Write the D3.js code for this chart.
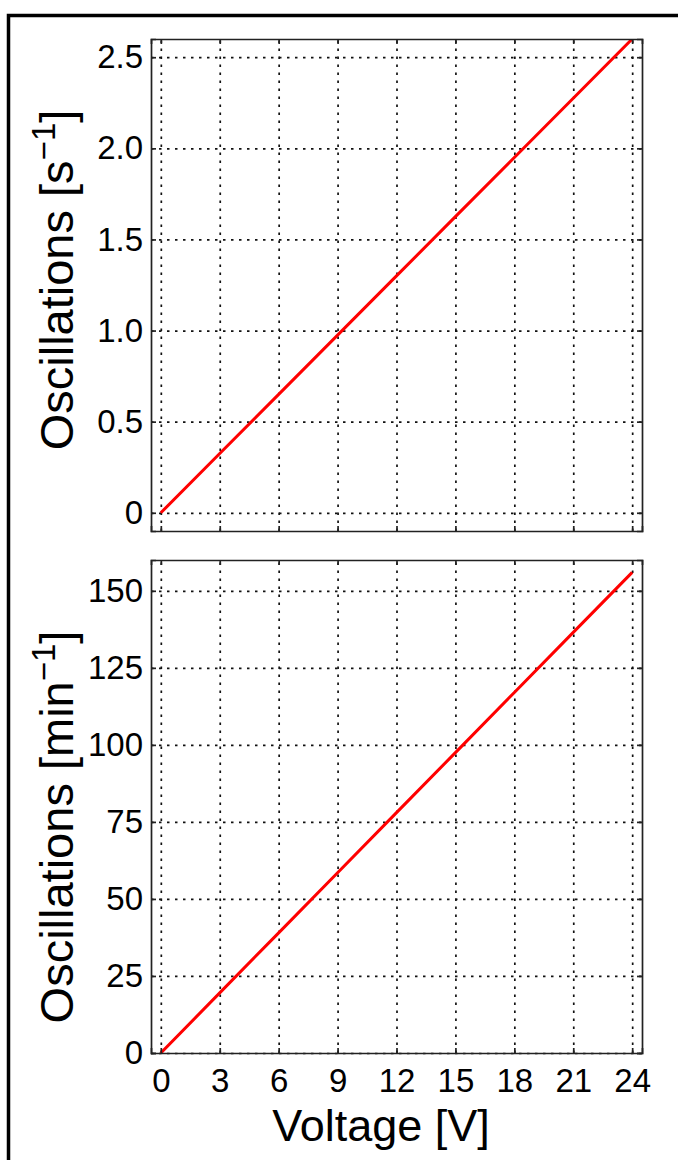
<!DOCTYPE html>
<html>
<head>
<meta charset="utf-8">
<script src="https://cdn.jsdelivr.net/npm/d3@7"></script>
<style>
  html, body { margin: 0; padding: 0; background: #fff; }
  svg { display: block; }
  text { font-family: "Liberation Sans", Arial, Helvetica, sans-serif; fill: #000; }
</style>
</head>
<body>
<svg id="chart" width="678" height="1160"></svg>
<script>
// Oscillation rate of the device versus supply voltage
const voltage = [0, 3, 6, 9, 12, 15, 18, 21, 24];
const oscPerSecond = [0, 0.325, 0.65, 0.975, 1.3, 1.625, 1.95, 2.275, 2.6];
const oscPerMinute = [0, 19.5, 39, 58.5, 78, 97.5, 117, 136.5, 156];

const xTicks = [0, 3, 6, 9, 12, 15, 18, 21, 24];
const yTicksTop = [0, 0.5, 1.0, 1.5, 2.0, 2.5];
const yTickLabelsTop = ["0", "0.5", "1.0", "1.5", "2.0", "2.5"];
const yTicksBottom = [0, 25, 50, 75, 100, 125, 150];
const yTickLabelsBottom = ["0", "25", "50", "75", "100", "125", "150"];

const svg = d3.select("#chart");

// outer frame (top and left edges)
svg.append("path")
  .attr("d", "M678,15.5 H8.5 V1160")
  .attr("fill", "none")
  .attr("stroke", "#000")
  .attr("stroke-width", 3.5);

const boxLeft = 151, boxRight = 642;
const x = d3.scaleLinear().domain([-0.5, 24.5]).range([boxLeft, boxRight]);

const panels = [
  { top: 39, bottom: 531, domain: [-0.1, 2.6], ticks: yTicksTop, labels: yTickLabelsTop,
    values: oscPerSecond, unit: "s", titleY: 280, xLabels: false },
  { top: 560, bottom: 1053, domain: [0, 160], ticks: yTicksBottom, labels: yTickLabelsBottom,
    values: oscPerMinute, unit: "min", titleY: 827, xLabels: true }
];

const tickFont = 33;

panels.forEach((p, i) => {
  const y = d3.scaleLinear().domain(p.domain).range([p.bottom, p.top]);
  const h = p.bottom - p.top;
  const w = boxRight - boxLeft;
  const g = svg.append("g");

  // dotted grid
  const grid = g.append("g").attr("class", "grid");
  grid.append("g")
    .attr("transform", `translate(0,${p.bottom})`)
    .call(d3.axisBottom(x).tickValues(xTicks).tickSize(-h).tickFormat(""));
  grid.append("g")
    .attr("transform", `translate(${boxLeft},0)`)
    .call(d3.axisLeft(y).tickValues(p.ticks).tickSize(-w).tickFormat(""));
  grid.selectAll(".domain").remove();
  grid.selectAll("line")
    .attr("stroke", "#111")
    .attr("stroke-width", 1.7)
    .attr("stroke-dasharray", "2.5,5.5");

  // data line
  const clipId = "clip" + i;
  svg.append("clipPath").attr("id", clipId)
    .append("rect").attr("x", boxLeft).attr("y", p.top).attr("width", w).attr("height", h);
  g.append("path")
    .datum(voltage.map((v, k) => [v, p.values[k]]))
    .attr("clip-path", `url(#${clipId})`)
    .attr("fill", "none")
    .attr("stroke", "#ff0000")
    .attr("stroke-width", 3)
    .attr("d", d3.line().x(d => x(d[0])).y(d => y(d[1])));

  // axes with inward ticks on all four sides
  const axL = g.append("g").attr("transform", `translate(${boxLeft},0)`)
    .call(d3.axisLeft(y).tickValues(p.ticks).tickSize(-5).tickPadding(8)
      .tickFormat((d, k) => p.labels[k]));
  const axR = g.append("g").attr("transform", `translate(${boxRight},0)`)
    .call(d3.axisRight(y).tickValues(p.ticks).tickSize(-5).tickFormat(""));
  const axT = g.append("g").attr("transform", `translate(0,${p.top})`)
    .call(d3.axisTop(x).tickValues(xTicks).tickSize(-5).tickFormat(""));
  const axB = g.append("g").attr("transform", `translate(0,${p.bottom})`)
    .call(d3.axisBottom(x).tickValues(xTicks).tickSize(-5).tickPadding(16)
      .tickFormat(p.xLabels ? (d => String(d)) : ""));

  [axL, axR, axT, axB].forEach(a => {
    a.selectAll(".domain").attr("stroke", "#222").attr("stroke-width", 1.7);
    a.selectAll(".tick line").attr("stroke", "#222").attr("stroke-width", 1.7);
    a.selectAll("text").attr("font-size", tickFont).attr("fill", "#000")
      .attr("font-family", "'Liberation Sans', Arial, sans-serif");
  });

  // y axis title
  const t = g.append("text")
    .attr("transform", `translate(73,${p.titleY}) rotate(-90)`)
    .attr("text-anchor", "middle")
    .attr("font-size", 47);
  t.append("tspan").text(`Oscillations [${p.unit}`);
  t.append("tspan").attr("font-size", 33).attr("dy", -18).text("\u22121");
  t.append("tspan").attr("dy", 18).text("]");
});

// x axis title
svg.append("text")
  .attr("x", 381)
  .attr("y", 1141)
  .attr("text-anchor", "middle")
  .attr("font-size", 45)
  .text("Voltage [V]");
</script>
</body>
</html>
